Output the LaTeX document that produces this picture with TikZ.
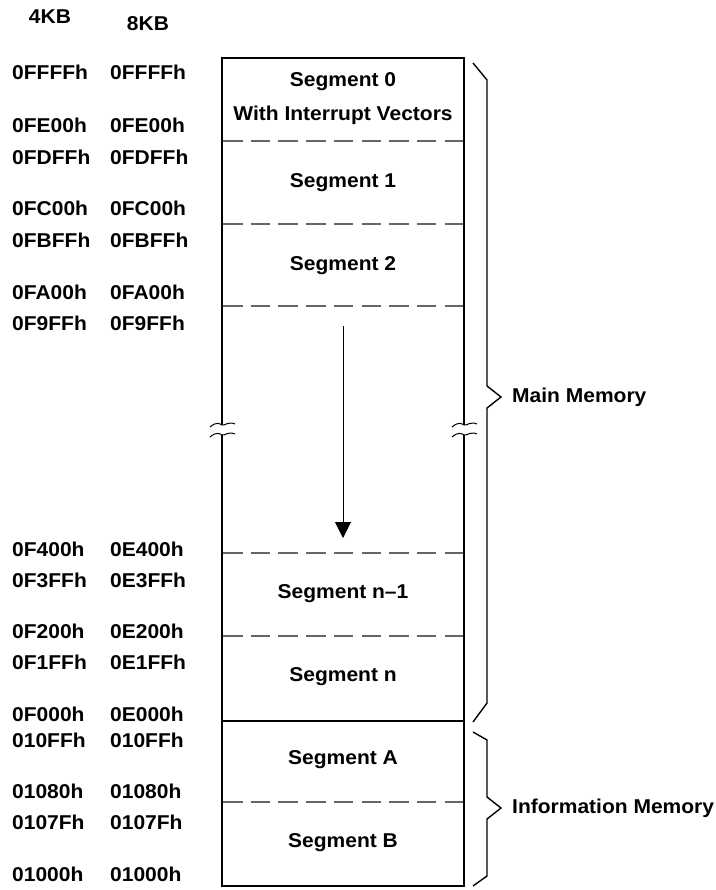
\documentclass[tikz,border=0pt]{standalone}
\usepackage{fontspec}
\setmainfont[FakeStretch=1.05]{Liberation Sans}
\usetikzlibrary{arrows.meta}
\begin{document}
\begin{tikzpicture}[x=1pt,y=-1pt,
  lbl/.style={font=\bfseries\fontsize{20}{24}\selectfont, inner sep=0pt},
  addr/.style={lbl},
  seg/.style={lbl, align=center},
  sepline/.style={draw=black!60, line width=1.3pt, dash pattern=on 19.5pt off 8.2pt},
  boxline/.style={line width=2pt},
  bracel/.style={line width=1.4pt},
  wave/.style={line width=1pt}]
\useasboundingbox (0,0) rectangle (715,890);
% headers
\node[lbl] (h4) at (50,17) {4KB};
\node[lbl] (h8) at (148,24) {8KB};
% addresses
\foreach \ya/\a/\b in {72/0FFFFh/0FFFFh,125/0FE00h/0FE00h,157/0FDFFh/0FDFFh,208/0FC00h/0FC00h,240/0FBFFh/0FBFFh,292/0FA00h/0FA00h,323/0F9FFh/0F9FFh,549/0F400h/0E400h,580/0F3FFh/0E3FFh,631/0F200h/0E200h,662/0F1FFh/0E1FFh,714/0F000h/0E000h,740/010FFh/010FFh,791/01080h/01080h,822/0107Fh/0107Fh,874/01000h/01000h}{
  \node[addr,anchor=west] (a\ya) at (12,\ya) {\a};
  \node[addr,anchor=west] (b\ya) at (110,\ya) {\b};
}
% separators
\foreach \ys in {141,224,306,553,636,802}{
  \draw[sepline] (223,\ys) -- (464,\ys);
}
% box
\draw[boxline] (222,425) -- (222,58) -- (464,58) -- (464,425);
\draw[boxline] (222,435) -- (222,886) -- (464,886) -- (464,435);
\draw[boxline] (222,721) -- (464,721);
% breaks
\foreach \xb in {222,464}{
  \draw[wave] (\xb-12,427) .. controls (\xb-5,421) and (\xb-2,424) .. (\xb,425) .. controls (\xb+3,426) and (\xb+6,421) .. (\xb+13,424);
  \draw[wave] (\xb-12,437) .. controls (\xb-5,431) and (\xb-2,434) .. (\xb,435) .. controls (\xb+3,436) and (\xb+6,431) .. (\xb+13,434);
}
% segment labels
\node[seg] (s0) at (343,82) {Segment 0};
\node[seg] (s0b) at (343,115) {With Interrupt Vectors};
\node[seg] (s1) at (343,183) {Segment 1};
\node[seg] (s2) at (343,266) {Segment 2};
\node[seg] (sn1) at (343,594) {Segment n--1};
\node[seg] (sn) at (343,677) {Segment n};
\node[seg] (sa) at (343,760) {Segment A};
\node[seg] (sb) at (343,843) {Segment B};
% arrow
\coordinate (ar1) at (343,326);
\coordinate (ar2) at (343,538);
\draw[line width=1pt,-{Triangle[length=16pt,width=16pt]}] (ar1) -- (ar2);
% braces
\draw[bracel] (473,63) -- (487,80) -- (487,386) -- (501,397) -- (487,408) -- (487,703) -- (473,722);
\draw[bracel] (473,732) -- (487,740) -- (487,797) -- (501,808) -- (487,819) -- (487,876) -- (473,886);
\node[lbl,anchor=west] (mm) at (512,397) {Main Memory};
\node[lbl,anchor=west] (im) at (512,808) {Information Memory};
\end{tikzpicture}
\end{document}
